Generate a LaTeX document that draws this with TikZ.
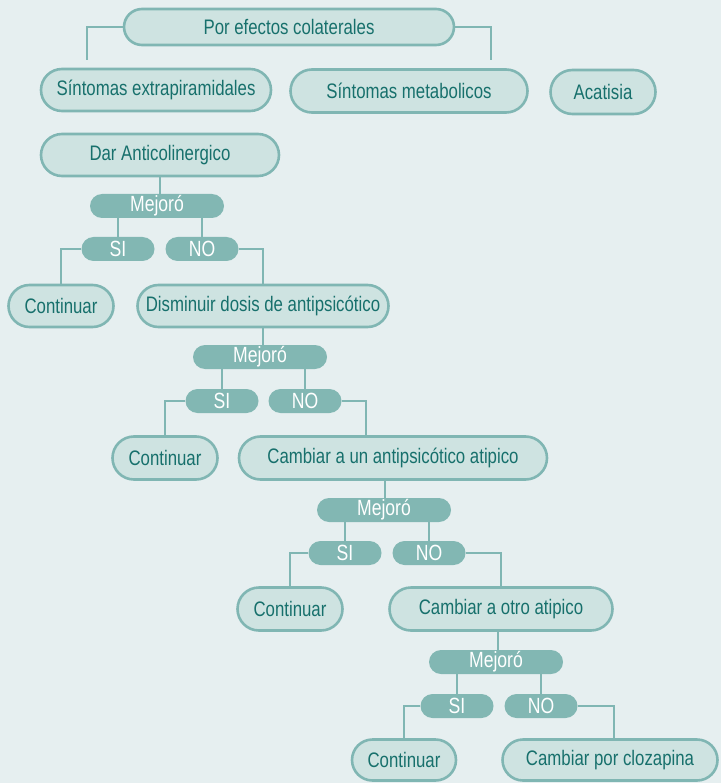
\documentclass[tikz,border=0pt]{standalone}
\usepackage{fontspec}
\setmainfont{Liberation Sans}[FakeStretch=0.8]
\usetikzlibrary{shapes.misc,backgrounds}
\definecolor{bg}{HTML}{E6EFF0}
\definecolor{boxfill}{HTML}{CEE3E1}
\definecolor{bord}{HTML}{80B6B3}
\definecolor{pillfill}{HTML}{82B7B3}
\definecolor{txt}{HTML}{17706C}
\tikzset{
  box/.style={rounded rectangle, draw=bord, line width=2.6pt, fill=boxfill, text=txt, inner sep=0pt,
    font=\fontsize{21}{24}\selectfont},
  pill/.style={rounded rectangle, fill=pillfill, text=white, inner sep=0pt, minimum height=24pt,
    font=\fontsize{22}{24}\selectfont},
  yesno/.style={pill, minimum width=73pt},
  mej/.style={pill, minimum width=134pt},
  link/.style={draw=bord, line width=2.6pt}
}
\begin{document}
\begin{tikzpicture}[x=1pt,y=-1pt]
\useasboundingbox (0,0) rectangle (721,783);
% top
\node[box, minimum width=330pt, minimum height=36pt] (por) at (289,27) {Por efectos colaterales};
\node[box, minimum width=230pt, minimum height=42pt] (sext) at (156,90) {Síntomas extrapiramidales};
\node[box, minimum width=237pt, minimum height=43pt] (smet) at (409,91) {Síntomas metabolicos};
\node[box, minimum width=105pt, minimum height=44pt] (acat) at (603,92) {Acatisia};
\coordinate (pl) at (87,60);
\coordinate (pr) at (491,60);
% level 1
\node[box, minimum width=238pt, minimum height=42pt] (dar) at (160,155) {Dar Anticolinergico};
\node[mej] (m1) at (157,206) {Mejoró};
\node[yesno] (si1) at (118,249) {SI};
\node[yesno] (no1) at (202,249) {NO};
\node[box, minimum width=105pt, minimum height=42pt] (c1) at (61,306) {Continuar};
\node[box, minimum width=251pt, minimum height=42pt] (dis) at (263,306) {Disminuir dosis de antipsicótico};
% level 2
\node[mej] (m2) at (260,357) {Mejoró};
\node[yesno] (si2) at (222,401) {SI};
\node[yesno] (no2) at (305,401) {NO};
\node[box, minimum width=105pt, minimum height=43pt] (c2) at (165,458) {Continuar};
\node[box, minimum width=308pt, minimum height=43pt] (cb1) at (393,458) {Cambiar a un antipsicótico atipico};
% level 3
\node[mej] (m3) at (384,510) {Mejoró};
\node[yesno] (si3) at (345,553) {SI};
\node[yesno] (no3) at (429,553) {NO};
\node[box, minimum width=105pt, minimum height=43pt] (c3) at (290,609) {Continuar};
\node[box, minimum width=223pt, minimum height=43pt] (cb2) at (501,609) {Cambiar a otro atipico};
% level 4
\node[mej] (m4) at (496,662) {Mejoró};
\node[yesno] (si4) at (457,706) {SI};
\node[yesno] (no4) at (541,706) {NO};
\node[box, minimum width=104pt, minimum height=41pt] (c4) at (404,760) {Continuar};
\node[box, minimum width=215pt, minimum height=41pt] (cz) at (610,760) {Cambiar por clozapina};
\begin{scope}[on background layer]
\fill[bg] (0,0) rectangle (721,783);
\draw[link] (por.west) -| (pl);
\draw[link] (por.east) -| (pr);
\draw[link] (dar.south) -- (dar.south |- m1.north);
\draw[link] (si1.north) -- (si1.north |- m1.south);
\draw[link] (no1.north) -- (no1.north |- m1.south);
\draw[link] (si1.west) -| (c1.north);
\draw[link] (no1.east) -| (dis.north);
\draw[link] (dis.south) -- (dis.south |- m2.north);
\draw[link] (si2.north) -- (si2.north |- m2.south);
\draw[link] (no2.north) -- (no2.north |- m2.south);
\draw[link] (si2.west) -| (c2.north);
\draw[link] (no2.east) -| ([xshift=-27pt]cb1.north);
\draw[link] ([xshift=-8pt]cb1.south) -- ([xshift=-8pt]cb1.south |- m3.north);
\draw[link] (si3.north) -- (si3.north |- m3.south);
\draw[link] (no3.north) -- (no3.north |- m3.south);
\draw[link] (si3.west) -| (c3.north);
\draw[link] (no3.east) -| (cb2.north);
\draw[link] ([xshift=-3pt]cb2.south) -- ([xshift=-3pt]cb2.south |- m4.north);
\draw[link] (si4.north) -- (si4.north |- m4.south);
\draw[link] (no4.north) -- (no4.north |- m4.south);
\draw[link] (si4.west) -| (c4.north);
\draw[link] (no4.east) -| ([xshift=4pt]cz.north);
\end{scope}
\end{tikzpicture}
\end{document}
